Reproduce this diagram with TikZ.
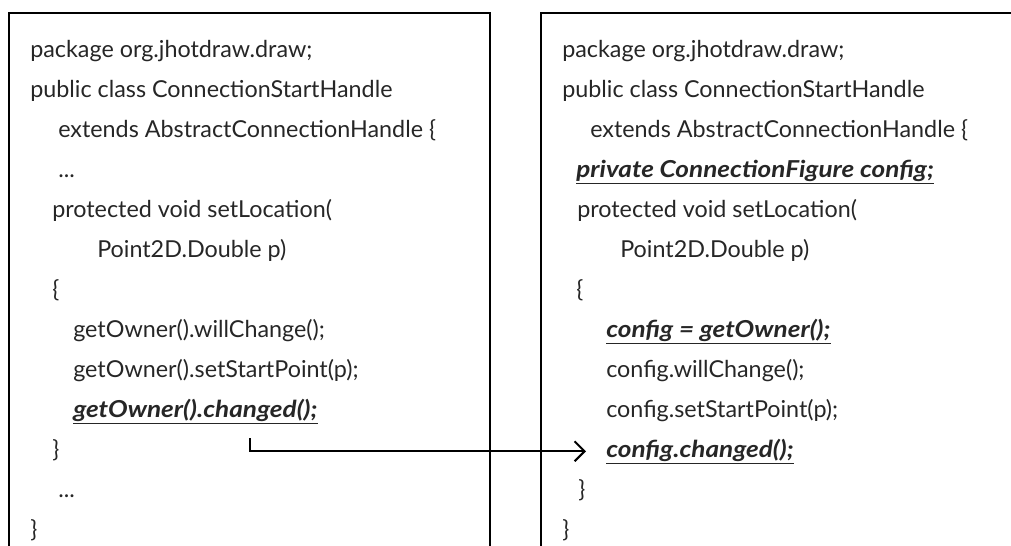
\documentclass[tikz,border=0pt]{standalone}
\usepackage{fontspec}
\setmainfont{Lato}
\newfontfamily\hlfont{Lato}[FakeStretch=1.12]
\usepackage{xcolor}
\usepackage{tikz}
\usetikzlibrary{positioning, arrows.meta}

\begin{document}
\begin{tikzpicture}[
            x=0.75pt, y=-0.75pt,
            code/.style={
                    anchor=base west,
                    inner sep=0pt,
                    text=black!85,
                    font=\fontsize{17.5}{21}\selectfont
                },
            changed/.style={
                    code,
                    font=\hlfont\fontsize{17.5}{21}\selectfont\bfseries\itshape
                },
            frame/.style={
                    line width=1.5pt
                },
            arrow/.style={
                    -{Straight Barb[length=7.5pt,width=15pt]},
                    line width=1.5pt
                }
        ]

        \useasboundingbox (0,0) rectangle (1011,546);

        % the two code boxes (open at the bottom)
        \draw[frame] (9,546) -- (9,13) -- (490,13) -- (490,546);
        \draw[frame] (541,546) -- (541,13) -- (1011,13);

        % before
        \node[code] (l1) at (30,57) {package org.jhotdraw.draw;};
        \node[code] (l2) at (30,97) {public class ConnectionStartHandle};
        \node[code] (l3) at (58,137) {extends AbstractConnectionHandle \{};
        \node[code] (l4) at (58,177) {...};
        \node[code] (l5) at (52,217) {protected void setLocation(};
        \node[code] (l6) at (97,257) {Point2D.Double p)};
        \node[code] (l7) at (52,297) {\{};
        \node[code] (l8) at (73,337) {getOwner().willChange();};
        \node[code] (l9) at (73,377) {getOwner().setStartPoint(p);};
        \node[changed] (lchg) at (73,417) {\underline{getOwner().changed();}};
        \node[code] (l11) at (52,457) {\}};
        \node[code] (l12) at (58,497) {...};
        \node[code] (l13) at (30,537) {\}};

        % after
        \node[code] (r1) at (562,57) {package org.jhotdraw.draw;};
        \node[code] (r2) at (562,97) {public class ConnectionStartHandle};
        \node[code] (r3) at (590,137) {extends AbstractConnectionHandle \{};
        \node[changed] (r4) at (576,177) {\underline{private ConnectionFigure config;}};
        \node[code] (r5) at (577,217) {protected void setLocation(};
        \node[code] (r6) at (620,257) {Point2D.Double p)};
        \node[code] (r7) at (576,297) {\{};
        \node[changed] (r8) at (606,337) {\underline{config = getOwner();}};
        \node[code] (r9) at (606,377) {config.willChange();};
        \node[code] (r10) at (606,417) {config.setStartPoint(p);};
        \node[changed] (rchg) at (606,457) {\underline{config.changed();}};
        \node[code] (r12) at (578,497) {\}};
        \node[code] (r13) at (562,537) {\}};

        \draw[arrow] ([xshift=132.75pt,yshift=-15.75pt]lchg.base west) |- ([xshift=-15pt]rchg.west);

    \end{tikzpicture}
\end{document}
